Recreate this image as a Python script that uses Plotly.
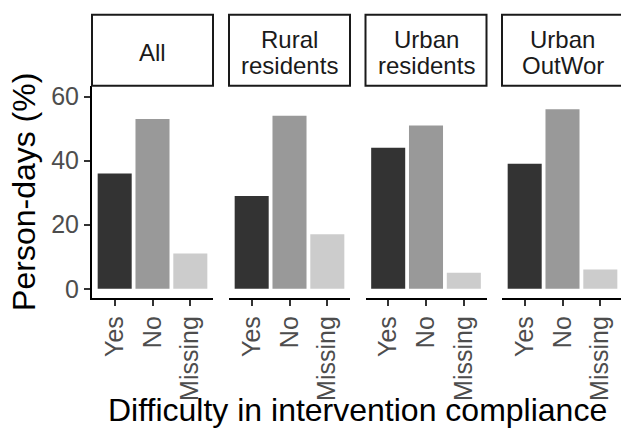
import plotly.graph_objects as go

# Figure size in pixels
W, H = 621, 436

# Data
categories = ["Yes", "No", "Missing"]
panel_names = ["All", "Rural residents", "Urban residents", "Urban OutWor"]
strip_lines = [["All"], ["Rural", "residents"], ["Urban", "residents"], ["Urban", "OutWor"]]
yes_pct = [36, 29, 44, 39]
no_pct = [53, 54, 51, 56]
missing_pct = [11, 17, 5, 6]
y_ticks = [0, 20, 40, 60]

bar_colors = ["#333333", "#999999", "#cccccc"]
FONT = "Liberation Sans, Arial, sans-serif"
TICK_SIZE = 25

# Panel geometry (pixels)
panel_left = [92, 229, 365.5, 502]
panel_w = 121
plot_top, plot_bottom = 84, 300
strip_top = 12
unit_px = panel_w / 3.2          # category units -> pixels
y_range = [-2.92, 63.4]

fig = go.Figure()
layout = dict(
    width=W, height=H,
    margin=dict(l=0, r=0, t=0, b=0),
    paper_bgcolor="white", plot_bgcolor="white",
    showlegend=False, bargap=0.1,
    font=dict(family=FONT, color="#000000"),
)

shapes = []
annotations = []
ydom = [1 - plot_bottom / H, 1 - plot_top / H]

for i, name in enumerate(panel_names):
    idx = "" if i == 0 else str(i + 1)
    vals = [yes_pct[i], no_pct[i], missing_pct[i]]
    fig.add_trace(go.Bar(
        x=categories, y=vals,
        marker=dict(color=bar_colors, line=dict(width=0)),
        width=0.9, name=name,
        xaxis="x" + idx, yaxis="y" + idx,
    ))
    left = panel_left[i]
    right = min(left + panel_w, W)
    x_hi = -0.6 + (right - left) / unit_px
    layout["xaxis" + idx] = dict(
        domain=[left / W, right / W], anchor="y" + idx,
        type="category", range=[-0.6, x_hi],
        showline=True, linecolor="#000000", linewidth=2,
        ticks="outside", ticklen=6, tickwidth=1.5, tickcolor="#333333",
        tickangle=-90, tickfont=dict(size=TICK_SIZE, color="#4d4d4d", family=FONT),
        showgrid=False, zeroline=False, fixedrange=True,
    )
    ycfg = dict(
        domain=ydom, anchor="x" + idx, range=y_range,
        showgrid=False, zeroline=False, fixedrange=True,
    )
    if i == 0:
        ycfg.update(
            showline=True, linecolor="#000000", linewidth=2,
            ticks="outside", ticklen=6, tickwidth=1.5, tickcolor="#333333",
            tickvals=y_ticks, ticktext=[str(v) for v in y_ticks],
            tickfont=dict(size=TICK_SIZE, color="#4d4d4d", family=FONT),
        )
    else:
        ycfg.update(showline=False, showticklabels=False, ticks="")
    layout["yaxis" + idx] = ycfg

    # strip box
    shapes.append(dict(
        type="rect", xref="paper", yref="paper",
        x0=left / W, x1=(left + panel_w) / W,
        y0=1 - plot_top / H, y1=1 - strip_top / H,
        line=dict(color="#1a1a1a", width=2), fillcolor="white",
    ))
    cx = (left + panel_w / 2) / W
    lines = strip_lines[i]
    if len(lines) == 1:
        ys = [50.5]
    else:
        ys = [36.7, 63.1]
    for txt, yp in zip(lines, ys):
        annotations.append(dict(
            text=txt, x=cx, y=1 - yp / H, xref="paper", yref="paper",
            xanchor="center", yanchor="middle", showarrow=False,
            font=dict(size=24, color="#1a1a1a", family=FONT),
        ))

# axis titles
annotations.append(dict(
    text="Difficulty in intervention compliance",
    x=357.5 / W, y=1 - 414 / H, xref="paper", yref="paper",
    xanchor="center", yanchor="middle", showarrow=False,
    font=dict(size=32, color="#000000", family=FONT),
))
annotations.append(dict(
    text="Person-days (%)", textangle=-90,
    x=24 / W, y=1 - 192 / H, xref="paper", yref="paper",
    xanchor="center", yanchor="middle", showarrow=False,
    font=dict(size=32, color="#000000", family=FONT),
))

layout["shapes"] = shapes
layout["annotations"] = annotations
fig.update_layout(**layout)
fig.write_html("out.html", config=dict(displayModeBar=False))
